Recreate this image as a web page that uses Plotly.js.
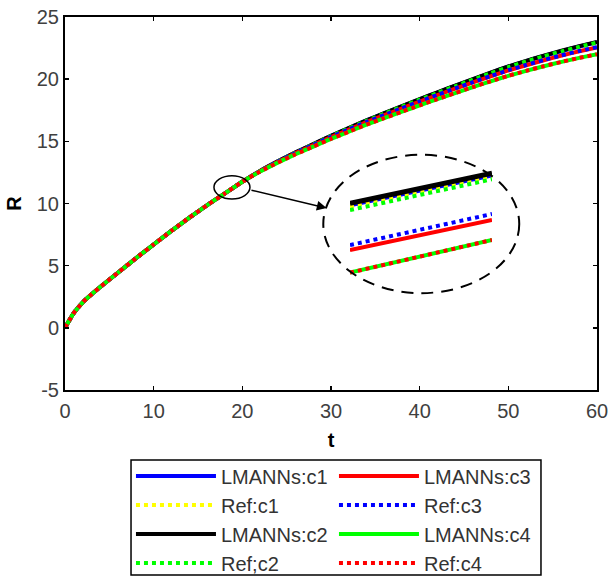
<!DOCTYPE html>
<html>
<head>
<meta charset="utf-8">
<script src="https://cdn.plot.ly/plotly-3.0.1.min.js"></script>
<style>html,body{margin:0;padding:0;background:#fff;}#chart{width:610px;height:579px;}</style>
</head>
<body>
<div id="chart"></div>
<script>
// ---- main curves ----
const t = [0,0.5,1,2,3,4,6,8,10,12,14,16,18,20,22,24,26,28,30,32,34,36,38,40,42,44,46,48,50,52,54,56,58,60];
const lmannsC1 = [0,0.62,1.2,2.05,2.7,3.3,4.45,5.6,6.7,7.8,8.85,9.85,10.8,11.75,12.62,13.39,14.1,14.77,15.44,16.06,16.68,17.25,17.82,18.38,18.92,19.46,19.99,20.51,21.0,21.45,21.87,22.26,22.63,22.97];
const refC1    = [0,0.62,1.2,2.05,2.7,3.3,4.45,5.6,6.7,7.8,8.85,9.85,10.8,11.75,12.61,13.38,14.09,14.76,15.43,16.05,16.67,17.24,17.81,18.37,18.91,19.45,19.98,20.5,20.99,21.44,21.86,22.25,22.62,22.96];
const lmannsC2 = [0,0.62,1.2,2.05,2.7,3.3,4.45,5.6,6.7,7.8,8.85,9.85,10.8,11.75,12.62,13.39,14.11,14.78,15.45,16.07,16.69,17.26,17.83,18.4,18.94,19.48,20.01,20.53,21.02,21.47,21.89,22.29,22.66,23.0];
const refC2    = [0,0.62,1.2,2.05,2.7,3.3,4.45,5.6,6.7,7.8,8.85,9.85,10.8,11.75,12.61,13.38,14.09,14.75,15.42,16.04,16.65,17.22,17.79,18.35,18.89,19.43,19.96,20.48,20.97,21.42,21.84,22.23,22.6,22.94];
const lmannsC3 = [0,0.62,1.2,2.05,2.7,3.3,4.45,5.6,6.7,7.8,8.85,9.85,10.8,11.75,12.6,13.35,14.05,14.7,15.35,15.95,16.55,17.1,17.65,18.2,18.72,19.23,19.74,20.23,20.7,21.12,21.52,21.9,22.24,22.55];
const refC3    = [0,0.62,1.2,2.05,2.7,3.3,4.45,5.6,6.7,7.8,8.85,9.85,10.8,11.75,12.6,13.36,14.06,14.71,15.36,15.96,16.56,17.11,17.66,18.21,18.73,19.25,19.76,20.25,20.72,21.14,21.54,21.92,22.26,22.58];
const lmannsC4 = [0,0.62,1.2,2.05,2.7,3.3,4.45,5.6,6.7,7.8,8.85,9.85,10.8,11.75,12.57,13.29,13.96,14.58,15.2,15.77,16.34,16.86,17.38,17.9,18.39,18.88,19.36,19.83,20.27,20.67,21.04,21.39,21.71,22.0];
const refC4    = [0,0.62,1.2,2.05,2.7,3.3,4.45,5.6,6.7,7.8,8.85,9.85,10.8,11.75,12.57,13.29,13.96,14.58,15.2,15.77,16.34,16.86,17.38,17.9,18.39,18.88,19.36,19.83,20.27,20.67,21.04,21.39,21.71,22.0];

// ---- magnified inset (zoom on t in [18,20]) ----
const insetT = [18, 20];
const insetLmannsC1 = [11.325, 11.455];
const insetRefC1    = [11.320, 11.452];
const insetLmannsC2 = [11.333, 11.464];
const insetRefC2    = [11.304, 11.438];
const insetLmannsC3 = [11.130, 11.261];
const insetRefC3    = [11.152, 11.287];
const insetLmannsC4 = [11.032, 11.174];
const insetRefC4    = [11.032, 11.174];

// ---- tick labels ----
const xTickVals = [0, 10, 20, 30, 40, 50, 60];
const xTickText = ['0', '10', '20', '30', '40', '50', '60'];
const yTickVals = [-5, 0, 5, 10, 15, 20, 25];
const yTickText = ['-5', '0', '5', '10', '15', '20', '25'];

const names = ['LMANNs:c1','Ref:c1','LMANNs:c2','Ref;c2','LMANNs:c3','Ref:c3','LMANNs:c4','Ref:c4'];
const colors = ['#0000ff','#ffff00','#000000','#00ff00','#ff0000','#0000ff','#00ff00','#ff0000'];
const dashes = ['solid','dot','solid','dot','solid','dot','solid','dot'];
const ranks = [1,3,5,7,2,4,6,8];
const mainY = [lmannsC1, refC1, lmannsC2, refC2, lmannsC3, refC3, lmannsC4, refC4];
const insetY = [insetLmannsC1, insetRefC1, insetLmannsC2, insetRefC2, insetLmannsC3, insetRefC3, insetLmannsC4, insetRefC4];

const traces = [];
for (let i = 0; i < 8; i++) {
  traces.push({
    x: t, y: mainY[i], type: 'scatter', mode: 'lines', name: names[i],
    line: {color: colors[i], width: 4, dash: dashes[i], shape: 'spline', smoothing: 0.5},
    legendrank: ranks[i], hoverinfo: 'skip'
  });
}
for (let i = 0; i < 8; i++) {
  traces.push({
    x: insetT, y: insetY[i], type: 'scatter', mode: 'lines', showlegend: false,
    xaxis: 'x2', yaxis: 'y2',
    line: {color: colors[i], width: (i===2 ? 5 : 4), dash: dashes[i]}, hoverinfo: 'skip'
  });
}

const tickFont = {family: 'Liberation Sans, Arial, sans-serif', size: 20, color: '#404040'};
const layout = {
  width: 610, height: 579,
  margin: {l: 65, r: 13, t: 17, b: 189, autoexpand: false},
  paper_bgcolor: '#fff', plot_bgcolor: '#fff',
  showlegend: true,
  xaxis: {
    range: [0, 60], tickmode: 'array', tickvals: xTickVals, ticktext: xTickText,
    showgrid: false, zeroline: false,
    showline: true, linecolor: '#000', linewidth: 2, mirror: 'ticks',
    ticks: 'inside', ticklen: 4, tickcolor: '#000', tickwidth: 1.5,
    tickfont: tickFont, ticklabelstandoff: 2,
    title: {text: '<b>t</b>', font: {family: 'Liberation Sans, Arial, sans-serif', size: 20, color: '#000'}, standoff: 12}
  },
  yaxis: {
    range: [-5, 25], tickmode: 'array', tickvals: yTickVals, ticktext: yTickText,
    showgrid: false, zeroline: false,
    showline: true, linecolor: '#000', linewidth: 2, mirror: 'ticks',
    ticks: 'inside', ticklen: 4, tickcolor: '#000', tickwidth: 1.5,
    tickfont: tickFont,
    title: {text: '<b>R</b>', font: {family: 'Liberation Sans, Arial, sans-serif', size: 20, color: '#000'}, standoff: 10}
  },
  xaxis2: {domain: [0.5357, 0.8026], range: [18, 20], anchor: 'y2', visible: false, fixedrange: true},
  yaxis2: {domain: [0.2949, 0.6032], range: [11.0, 11.5], anchor: 'x2', visible: false, fixedrange: true},
  legend: {
    orientation: 'h', x: 0.124, xanchor: 'left', y: -0.178, yanchor: 'top',
    borderwidth: 0, bgcolor: 'rgba(0,0,0,0)',
    font: {family: 'Liberation Sans, Arial, sans-serif', size: 20, color: '#333'},
    itemwidth: 80, entrywidth: 108, entrywidthmode: 'pixels', traceorder: 'normal'
  },
  shapes: [
    {type: 'rect', xref: 'paper', yref: 'paper', x0: 0.1241, x1: 0.8947, y0: -0.496, y1: -0.1877,
     line: {color: '#000', width: 1.5}, fillcolor: 'rgba(0,0,0,0)'},
    {type: 'circle', xref: 'x', yref: 'y', x0: 16.8, x1: 20.86, y0: 10.37, y1: 12.23,
     line: {color: '#000', width: 1.5}},
    {type: 'circle', xref: 'x', yref: 'y', x0: 29.13, x1: 51.23, y0: 2.79, y1: 13.92,
     line: {color: '#000', width: 2, dash: '12px,8px'}}
  ],
  annotations: [
    {x: 29.5, y: 9.63, ax: 20.86, ay: 11.1, xref: 'x', yref: 'y', axref: 'x', ayref: 'y',
     showarrow: true, arrowhead: 2, arrowsize: 1.3, arrowwidth: 1.5, arrowcolor: '#000', text: ''}
  ]
};
Plotly.newPlot('chart', traces, layout, {staticPlot: true, displayModeBar: false});
</script>
</body>
</html>
